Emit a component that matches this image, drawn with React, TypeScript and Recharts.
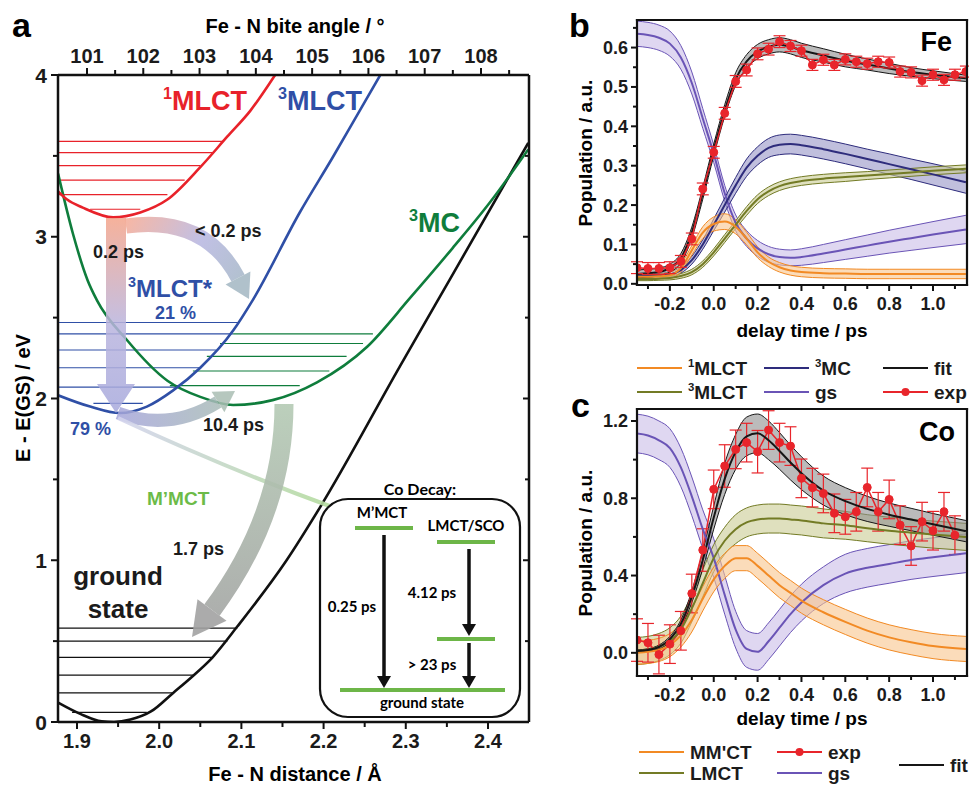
import React from 'react';
import { ComposedChart, LineChart, Line, Area, XAxis, YAxis, ReferenceLine, ErrorBar } from 'recharts';

const FONT = '"Liberation Sans", Arial, Helvetica, sans-serif';
const FONT2 = 'Lato, "Open Sans", sans-serif';

// ---------- panel a : potential energy curves, [Fe-N distance / Å, E / eV]
const gsCurve = [[1.877, 0.12], [1.904, 0.05], [1.93, 0.004], [1.945, 0], [1.965, 0.015], [1.99, 0.065], [2.017, 0.18], [2.04, 0.28], [2.065, 0.4], [2.095, 0.59], [2.155, 1.0], [2.196, 1.33], [2.293, 2.2], [2.354, 2.74], [2.449, 3.58]];
const mlct1Curve = [[1.877, 3.28], [1.888, 3.23], [1.907, 3.18], [1.944, 3.12], [1.977, 3.15], [2.01, 3.23], [2.05, 3.43], [2.083, 3.62], [2.111, 3.78], [2.141, 4.0]];
const mlct3Curve = [[1.877, 2.02], [1.916, 1.95], [1.952, 1.91], [1.985, 1.95], [2.017, 2.05], [2.05, 2.19], [2.09, 2.42], [2.114, 2.61], [2.171, 3.15], [2.211, 3.49], [2.244, 3.78], [2.269, 4.0]];
const mcCurve = [[1.877, 3.39], [1.895, 3.02], [1.913, 2.73], [1.924, 2.61], [1.961, 2.36], [2.01, 2.11], [2.05, 2.01], [2.09, 1.96], [2.138, 1.99], [2.192, 2.1], [2.253, 2.32], [2.305, 2.62], [2.357, 2.93], [2.402, 3.21], [2.449, 3.54]];

// vibrational levels: [E, from d, to d]
const mlct1Levels = [[3.59, 1.877, 2.078], [3.52, 1.877, 2.066], [3.44, 1.877, 2.05], [3.35, 1.877, 2.031], [3.26, 1.877, 2.01], [3.17, 1.916, 1.977]];
const mlct3Levels = [[2.47, 1.877, 2.098], [2.4, 1.877, 2.09], [2.3, 1.877, 2.069], [2.19, 1.877, 2.05], [2.07, 1.877, 2.025], [1.97, 1.92, 1.98]];
const mcLevels = [[2.4, 2.09, 2.26], [2.34, 2.074, 2.248], [2.26, 2.058, 2.228], [2.17, 2.041, 2.207], [2.08, 2.013, 2.171]];
const gsLevels = [[0.58, 1.877, 2.095], [0.5, 1.877, 2.083], [0.4, 1.877, 2.065], [0.29, 1.877, 2.043], [0.18, 1.877, 2.017], [0.06, 1.894, 1.985]];

const distTicks = [1.9, 1.95, 2.0, 2.05, 2.1, 2.15, 2.2, 2.25, 2.3, 2.35, 2.4];
const angleTicks = [101, 101.5, 102, 102.5, 103, 103.5, 104, 104.5, 105, 105.5, 106, 106.5, 107, 107.5, 108, 108.5];
const energyTicks = [0, 0.5, 1, 1.5, 2, 2.5, 3, 3.5, 4];

// ---------- panels b / c : populations vs delay time (ps)
const modelT = [-0.35, -0.3, -0.25, -0.2, -0.15, -0.1, -0.05, 0, 0.05, 0.1, 0.15, 0.2, 0.25, 0.3, 0.35, 0.4, 0.5, 0.6, 0.7, 0.8, 0.9, 1.0, 1.15];

const feFit = [0.025, 0.027, 0.03, 0.04, 0.065, 0.13, 0.23, 0.34, 0.44, 0.52, 0.565, 0.59, 0.602, 0.607, 0.602, 0.593, 0.58, 0.567, 0.557, 0.547, 0.538, 0.531, 0.522];
const feFitErr = [0.01, 0.01, 0.01, 0.01, 0.012, 0.014, 0.015, 0.015, 0.015, 0.016, 0.017, 0.018, 0.018, 0.018, 0.018, 0.018, 0.017, 0.016, 0.014, 0.013, 0.011, 0.01, 0.008];
const feGs = [0.635, 0.632, 0.625, 0.61, 0.575, 0.51, 0.42, 0.33, 0.23, 0.155, 0.115, 0.09, 0.075, 0.068, 0.066, 0.068, 0.077, 0.087, 0.097, 0.107, 0.116, 0.125, 0.138];
const feGsErr = [0.032, 0.032, 0.032, 0.032, 0.03, 0.028, 0.025, 0.022, 0.02, 0.02, 0.02, 0.02, 0.02, 0.02, 0.02, 0.021, 0.023, 0.025, 0.027, 0.029, 0.031, 0.033, 0.036];
const fe3MC = [0.02, 0.02, 0.021, 0.024, 0.035, 0.06, 0.1, 0.15, 0.2, 0.25, 0.295, 0.325, 0.345, 0.353, 0.355, 0.352, 0.342, 0.33, 0.317, 0.304, 0.291, 0.278, 0.258];
const fe3MCErr = [0.005, 0.005, 0.005, 0.006, 0.008, 0.01, 0.012, 0.015, 0.018, 0.02, 0.022, 0.023, 0.024, 0.025, 0.025, 0.025, 0.025, 0.025, 0.025, 0.026, 0.026, 0.027, 0.028];
const fe3MLCT = [0.012, 0.012, 0.013, 0.015, 0.02, 0.03, 0.05, 0.08, 0.115, 0.15, 0.185, 0.215, 0.235, 0.248, 0.256, 0.261, 0.267, 0.271, 0.275, 0.279, 0.283, 0.287, 0.292];
const fe3MLCTErr = [0.004, 0.004, 0.004, 0.005, 0.006, 0.007, 0.008, 0.009, 0.01, 0.01, 0.011, 0.011, 0.011, 0.011, 0.011, 0.011, 0.011, 0.011, 0.01, 0.01, 0.01, 0.01, 0.01];
const fe1MLCT = [0.018, 0.018, 0.019, 0.022, 0.04, 0.085, 0.13, 0.152, 0.158, 0.145, 0.115, 0.08, 0.056, 0.042, 0.034, 0.03, 0.027, 0.026, 0.025, 0.025, 0.025, 0.025, 0.025];
const fe1MLCTErr = [0.005, 0.005, 0.006, 0.008, 0.01, 0.012, 0.015, 0.018, 0.02, 0.018, 0.016, 0.014, 0.012, 0.012, 0.012, 0.012, 0.012, 0.012, 0.012, 0.012, 0.012, 0.012, 0.012];

const feExpT = [-0.35, -0.3, -0.25, -0.2, -0.15, -0.1, -0.05, 0, 0.05, 0.1, 0.15, 0.2, 0.25, 0.3, 0.35, 0.4, 0.45, 0.5, 0.55, 0.6, 0.65, 0.7, 0.75, 0.8, 0.85, 0.9, 0.95, 1.0, 1.05, 1.1, 1.15];
const feExp = [0.041, 0.039, 0.039, 0.041, 0.057, 0.114, 0.241, 0.334, 0.433, 0.514, 0.543, 0.584, 0.596, 0.615, 0.604, 0.592, 0.556, 0.569, 0.556, 0.57, 0.564, 0.559, 0.564, 0.562, 0.539, 0.537, 0.516, 0.531, 0.518, 0.531, 0.539];
const feExpErr = [0.015, 0.015, 0.015, 0.015, 0.015, 0.015, 0.015, 0.015, 0.015, 0.015, 0.015, 0.015, 0.015, 0.015, 0.014, 0.014, 0.014, 0.014, 0.014, 0.014, 0.014, 0.014, 0.014, 0.014, 0.014, 0.014, 0.014, 0.014, 0.014, 0.014, 0.014];

const coFit = [0.01, 0.015, 0.03, 0.07, 0.15, 0.29, 0.48, 0.7, 0.9, 1.04, 1.12, 1.136, 1.1, 1.045, 0.985, 0.93, 0.84, 0.785, 0.745, 0.715, 0.69, 0.665, 0.63];
const coFitErr = [0.005, 0.006, 0.01, 0.015, 0.02, 0.03, 0.045, 0.06, 0.08, 0.09, 0.1, 0.1, 0.1, 0.095, 0.09, 0.085, 0.075, 0.07, 0.065, 0.06, 0.058, 0.056, 0.055];
const coGs = [1.135, 1.125, 1.1, 1.06, 0.96, 0.81, 0.64, 0.49, 0.3, 0.12, 0.02, 0.005, 0.06, 0.13, 0.2, 0.26, 0.35, 0.41, 0.44, 0.46, 0.48, 0.495, 0.515];
const coGsErr = [0.1, 0.1, 0.1, 0.1, 0.1, 0.1, 0.1, 0.1, 0.1, 0.095, 0.095, 0.095, 0.095, 0.095, 0.095, 0.095, 0.095, 0.1, 0.1, 0.1, 0.1, 0.1, 0.1];
const coLmct = [0.01, 0.015, 0.03, 0.06, 0.12, 0.23, 0.36, 0.49, 0.58, 0.64, 0.675, 0.69, 0.695, 0.695, 0.69, 0.685, 0.67, 0.66, 0.645, 0.632, 0.622, 0.612, 0.6];
const coLmctErr = [0.07, 0.07, 0.07, 0.07, 0.07, 0.07, 0.07, 0.07, 0.07, 0.075, 0.075, 0.075, 0.075, 0.075, 0.075, 0.075, 0.075, 0.072, 0.07, 0.07, 0.07, 0.07, 0.07];
const coMmct = [0.0, 0.005, 0.015, 0.04, 0.09, 0.17, 0.28, 0.38, 0.45, 0.49, 0.49, 0.45, 0.4, 0.35, 0.31, 0.27, 0.21, 0.16, 0.115, 0.08, 0.055, 0.035, 0.02];
const coMmctErr = [0.06, 0.06, 0.06, 0.06, 0.06, 0.062, 0.063, 0.064, 0.065, 0.065, 0.065, 0.065, 0.065, 0.065, 0.065, 0.065, 0.065, 0.065, 0.065, 0.065, 0.065, 0.065, 0.065];

const coExpT = [-0.35, -0.3, -0.25, -0.2, -0.15, -0.1, -0.05, 0, 0.05, 0.1, 0.15, 0.2, 0.25, 0.3, 0.35, 0.4, 0.45, 0.5, 0.55, 0.6, 0.65, 0.7, 0.75, 0.8, 0.85, 0.9, 0.95, 1.0, 1.05, 1.1];
const coExp = [0.066, 0.052, -0.009, 0.045, 0.114, 0.307, 0.532, 0.846, 0.967, 1.053, 1.088, 1.041, 1.153, 1.088, 1.07, 0.903, 0.855, 0.825, 0.722, 0.704, 0.73, 0.856, 0.73, 0.794, 0.661, 0.553, 0.679, 0.632, 0.73, 0.609];
const coExpErr = [0.11, 0.1, 0.1, 0.1, 0.1, 0.1, 0.11, 0.1, 0.11, 0.1, 0.1, 0.11, 0.1, 0.1, 0.1, 0.1, 0.1, 0.1, 0.1, 0.09, 0.1, 0.1, 0.1, 0.1, 0.1, 0.1, 0.1, 0.1, 0.1, 0.1];

const timeTicks = [-0.3, -0.2, -0.1, 0, 0.1, 0.2, 0.3, 0.4, 0.5, 0.6, 0.7, 0.8, 0.9, 1.0, 1.1];
const feTicks = [0, 0.05, 0.1, 0.15, 0.2, 0.25, 0.3, 0.35, 0.4, 0.45, 0.5, 0.55, 0.6, 0.65];
const coTicks = [0, 0.2, 0.4, 0.6, 0.8, 1.0, 1.2];

const C = {
  orange: '#f28a24', orangeF: '#f9c48c',
  olive: '#737b25', oliveF: '#c9cc92',
  navy: '#2e2c7c', navyF: '#9694c6',
  purple: '#6a54b6', purpleF: '#c9bce8',
  black: '#161616', blackF: '#8e8e8e',
  red: '#e8252b',
};

const curve = (a: number[][]) => a.map(([d, E]) => ({ d, E }));
const model = (c: number[], e: number[]) => modelT.map((t, i) => ({ t, v: c[i], band: [c[i] - e[i], c[i] + e[i]] }));
const expPts = (ts: number[], v: number[], e: number[]) => ts.map((t, i) => ({ t, v: v[i], e: e[i] }));

type TickOpt = { side: 'left' | 'right' | 'top' | 'bottom'; step: number; len: number; minor: number; inward?: boolean; size: number; off: number; digits: number; label?: boolean };
function makeTick(o: TickOpt) {
  return (p: any) => {
    const v = Number(p.payload?.value);
    const r = v / o.step;
    const major = Math.abs(r - Math.round(r)) < 1e-6;
    const L = major ? o.len : o.minor;
    const s = o.inward ? -1 : 1;
    const x = p.x, y = p.y;
    const txt = major && o.label !== false ? v.toFixed(o.digits) : null;
    const st = { fontFamily: FONT, fontWeight: 700, fontSize: o.size, fill: '#1b1b1b' } as any;
    if (o.side === 'bottom')
      return <g><line x1={x} y1={y} x2={x} y2={y + s * L} stroke="#111" strokeWidth={2} />{txt && <text x={x} y={y + o.off} textAnchor="middle" style={st}>{txt}</text>}</g>;
    if (o.side === 'top')
      return <g><line x1={x} y1={y} x2={x} y2={y - s * L} stroke="#111" strokeWidth={2} />{txt && <text x={x} y={y + o.off} textAnchor="middle" style={st}>{txt}</text>}</g>;
    if (o.side === 'left')
      return <g><line x1={x} y1={y} x2={x - s * L} y2={y} stroke="#111" strokeWidth={2} />{txt && <text x={x + o.off} y={y + o.size * 0.36} textAnchor="end" style={st}>{txt}</text>}</g>;
    return <g><line x1={x} y1={y} x2={x + s * L} y2={y} stroke="#111" strokeWidth={2} /></g>;
  };
}

const feSeries = [
  { c: feGs, e: feGsErr, stroke: C.purple, fill: C.purpleF },
  { c: fe3MC, e: fe3MCErr, stroke: C.navy, fill: C.navyF },
  { c: fe3MLCT, e: fe3MLCTErr, stroke: C.olive, fill: C.oliveF },
  { c: fe1MLCT, e: fe1MLCTErr, stroke: C.orange, fill: C.orangeF },
  { c: feFit, e: feFitErr, stroke: C.black, fill: C.blackF },
];
const coSeries = [
  { c: coGs, e: coGsErr, stroke: C.purple, fill: C.purpleF },
  { c: coLmct, e: coLmctErr, stroke: C.olive, fill: C.oliveF },
  { c: coMmct, e: coMmctErr, stroke: C.orange, fill: C.orangeF },
  { c: coFit, e: coFitErr, stroke: C.black, fill: C.blackF },
];

function bands(list: any[], pre: string) {
  return list.map((s, i) => (
    <Area key={pre + 'a' + i} data={model(s.c, s.e)} type="monotone" dataKey="band" stroke={s.stroke} strokeWidth={1}
      fill={s.fill} fillOpacity={0.6} isAnimationActive={false} dot={false} activeDot={false} />
  ));
}
function centers(list: any[], pre: string) {
  return list.map((s, i) => (
    <Line key={pre + 'l' + i} data={model(s.c, s.e)} type="monotone" dataKey="v" stroke={s.stroke} strokeWidth={2}
      dot={false} activeDot={false} isAnimationActive={false} />
  ));
}
function levels(list: number[][], color: string, pre: string) {
  return list.map(([E, d1, d2], i) => (
    <ReferenceLine key={pre + i} segment={[{ x: d1, y: E }, { x: d2, y: E }]} stroke={color} strokeWidth={1.2} ifOverflow="visible" />
  ));
}

function Sup({ x, y, sup, main, size, fill, anchor }: any) {
  return (
    <text x={x} y={y} fill={fill} fontSize={size} fontWeight={700} fontFamily={FONT} textAnchor={anchor || 'start'}>
      {sup && <tspan fontSize={size * 0.6} dy={-size * 0.4}>{sup}</tspan>}
      <tspan dy={sup ? size * 0.4 : 0}>{main}</tspan>
    </text>
  );
}

function LegendItem({ x, y, color, dot, sup, main }: any) {
  return (
    <g>
      <line x1={x} x2={x + 45} y1={y} y2={y} stroke={color} strokeWidth={2} />
      {dot && <circle cx={x + 22.5} cy={y} r={4} fill={color} />}
      <Sup x={x + 51} y={y + 7} sup={sup} main={main} size={19} fill="#1b1b1b" />
    </g>
  );
}

function Frame({ x1, y1, x2, y2 }: any) {
  return (
    <g stroke="#111111" strokeWidth={2.2} strokeLinecap="square">
      <line x1={x1} y1={y1} x2={x2} y2={y1} />
      <line x1={x2} y1={y1} x2={x2} y2={y2} />
      <line x1={x1} y1={y1} x2={x1} y2={y2} />
      <line x1={x1} y1={y2} x2={x2} y2={y2} />
    </g>
  );
}

function Overlay() {
  const t = { fontFamily: FONT, fontWeight: 700 } as any;
  const t2 = { fontFamily: FONT2, fontWeight: 700 } as any;
  return (
    <svg width={969} height={785} viewBox="0 0 969 785" style={{ position: 'absolute', left: 0, top: 0, pointerEvents: 'none', zIndex: 5 }}>
      <defs>
        <linearGradient id="g1" x1="0" y1="218" x2="0" y2="413" gradientUnits="userSpaceOnUse">
          <stop offset="0" stopColor="#f4a48a" />
          <stop offset="0.55" stopColor="#b9b4de" />
          <stop offset="1" stopColor="#a7a9dc" />
        </linearGradient>
        <linearGradient id="g2" x1="126" y1="226" x2="249" y2="299" gradientUnits="userSpaceOnUse">
          <stop offset="0" stopColor="#f3ab98" />
          <stop offset="0.5" stopColor="#b6b5e0" />
          <stop offset="1" stopColor="#9fb6c0" />
        </linearGradient>
        <linearGradient id="g3" x1="118" y1="413" x2="236" y2="392" gradientUnits="userSpaceOnUse">
          <stop offset="0" stopColor="#a6a6da" />
          <stop offset="1" stopColor="#a9bfb2" />
        </linearGradient>
        <linearGradient id="g4" x1="0" y1="404" x2="0" y2="638" gradientUnits="userSpaceOnUse">
          <stop offset="0" stopColor="#b4cab4" />
          <stop offset="1" stopColor="#a2a2a2" />
        </linearGradient>
        <linearGradient id="g5" x1="118" y1="418" x2="335" y2="508" gradientUnits="userSpaceOnUse">
          <stop offset="0" stopColor="#d4d4ee" />
          <stop offset="1" stopColor="#b3dc9c" />
        </linearGradient>
      </defs>

      {/* frames of panels b and c */}
      <Frame x1={637} y1={20} x2={967} y2={285} />
      <Frame x1={637} y1={409} x2={967} y2={676} />

      {/* panel a arrows */}
      <path d="M106 218 L126 218 L126 384 L135 384 L116 413 L97 384 L106 384 Z" fill="url(#g1)" opacity={0.85} />
      <path d="M126 226 Q205 215 238 278" stroke="url(#g2)" strokeWidth={15} fill="none" opacity={0.85} />
      <polygon points="225.6,284.5 250.4,271.5 249,299" fill="#a2b6c2" opacity={0.85} />
      <path d="M118 413 Q170 432 218 402" stroke="url(#g3)" strokeWidth={13} fill="none" opacity={0.85} />
      <polygon points="224.4,412.2 211.6,391.8 235,391" fill="#a9bdb3" opacity={0.85} />
      <path d="M118 418 Q230 470 335 508" stroke="url(#g5)" strokeWidth={4} fill="none" opacity={0.9} />
      <path d="M284 404 C284 480 258 548 212 610" stroke="url(#g4)" strokeWidth={19} fill="none" opacity={0.9} />
      <polygon points="226.5,620.7 197.5,599.3 192,637" fill="#a2a2a2" opacity={0.9} />

      {/* inset */}
      <rect x={320} y={499} width={200} height={218} rx={28} fill="#fff" stroke="#111" strokeWidth={2.2} />
      <text x={420} y={495} textAnchor="middle" fontSize={16} style={t2}>Co Decay:</text>
      <text x={382} y={518} textAnchor="middle" fontSize={15} style={t2}>M’MCT</text>
      <text x={466} y={531} textAnchor="middle" fontSize={15} style={t2}>LMCT/SCO</text>
      <line x1={355} x2={413} y1={528} y2={528} stroke="#6db648" strokeWidth={4} />
      <line x1={437} x2={495} y1={542} y2={542} stroke="#6db648" strokeWidth={4} />
      <line x1={437} x2={495} y1={639} y2={639} stroke="#6db648" strokeWidth={4} />
      <line x1={340} x2={505} y1={690} y2={690} stroke="#6db648" strokeWidth={4} />
      <line x1={384} x2={384} y1={535} y2={678} stroke="#111" strokeWidth={3.5} />
      <polygon points="377,676 391,676 384,688" fill="#111" />
      <line x1={469} x2={469} y1={549} y2={626} stroke="#111" strokeWidth={3.5} />
      <polygon points="462,624 476,624 469,636" fill="#111" />
      <line x1={469} x2={469} y1={643} y2={678} stroke="#111" strokeWidth={3.5} />
      <polygon points="462,676 476,676 469,688" fill="#111" />
      <text x={352} y={612} textAnchor="middle" fontSize={15} style={t2}>0.25 ps</text>
      <text x={432} y={598} textAnchor="middle" fontSize={15} style={t2}>4.12 ps</text>
      <text x={432} y={670} textAnchor="middle" fontSize={15} style={t2}>&gt; 23 ps</text>
      <text x={422} y={708} textAnchor="middle" fontSize={15} style={t2}>ground state</text>

      {/* panel a labels */}
      <text x={12} y={37} fontSize={34} style={t}>a</text>
      <text x={295} y={33} textAnchor="middle" fontSize={20} style={t}>Fe - N bite angle / °</text>
      <text x={295} y={781} textAnchor="middle" fontSize={20} style={t}>Fe - N distance / Å</text>
      <text x={30} y={398} textAnchor="middle" fontSize={20} style={t} transform="rotate(-90 30 398)">E - E(GS) / eV</text>
      <Sup x={163} y={110} sup="1" main="MLCT" size={27} fill="#e8222a" />
      <Sup x={278} y={110} sup="3" main="MLCT" size={27} fill="#2f4fa6" />
      <Sup x={409} y={232} sup="3" main="MC" size={27} fill="#0f7d3c" />
      <Sup x={128} y={297} sup="3" main="MLCT*" size={24} fill="#2f4fa6" />
      <text x={93} y={258} fontSize={18} style={t} fill="#1b1b1b">0.2 ps</text>
      <text x={195} y={237} fontSize={18} style={t} fill="#1b1b1b">&lt; 0.2 ps</text>
      <text x={155} y={319} fontSize={18} style={t} fill="#2f4fa6">21 %</text>
      <text x={70} y={435} fontSize={18} style={t} fill="#2f4fa6">79 %</text>
      <text x={203} y={431} fontSize={18} style={t} fill="#1b1b1b">10.4 ps</text>
      <text x={147} y={505} fontSize={19} style={t} fill="#6cbb48">M’MCT</text>
      <text x={173} y={555} fontSize={18} style={t} fill="#1b1b1b">1.7 ps</text>
      <text x={118} y={585} textAnchor="middle" fontSize={26} style={t} fill="#1b1b1b">ground</text>
      <text x={118} y={618} textAnchor="middle" fontSize={26} style={t} fill="#1b1b1b">state</text>

      {/* panel b labels */}
      <text x={569} y={37} fontSize={34} style={t}>b</text>
      <text x={952} y={51} textAnchor="end" fontSize={27} style={t}>Fe</text>
      <text x={802} y={337} textAnchor="middle" fontSize={19} style={t}>delay time / ps</text>
      <text x={592} y={153} textAnchor="middle" fontSize={19} style={t} transform="rotate(-90 592 153)">Population / a.u.</text>
      <LegendItem x={637} y={368} color={C.orange} sup="1" main="MLCT" />
      <LegendItem x={764} y={368} color={C.navy} sup="3" main="MC" />
      <LegendItem x={883} y={368} color={C.black} main="fit" />
      <LegendItem x={637} y={392} color={C.olive} sup="3" main="MLCT" />
      <LegendItem x={764} y={392} color={C.purple} main="gs" />
      <LegendItem x={883} y={392} color={C.red} main="exp" dot />

      {/* panel c labels */}
      <text x={571} y={417} fontSize={34} style={t}>c</text>
      <text x={955} y={441} textAnchor="end" fontSize={27} style={t}>Co</text>
      <text x={802} y={725} textAnchor="middle" fontSize={19} style={t}>delay time / ps</text>
      <text x={592} y={543} textAnchor="middle" fontSize={19} style={t} transform="rotate(-90 592 543)">Population / a.u.</text>
      <LegendItem x={639} y={752} color={C.orange} main="MM'CT" />
      <LegendItem x={777} y={752} color={C.red} main="exp" dot />
      <LegendItem x={639} y={773} color={C.olive} main="LMCT" />
      <LegendItem x={777} y={773} color={C.purple} main="gs" />
      <LegendItem x={899} y={765} color={C.black} main="fit" />
    </svg>
  );
}

// plot area of panel a: x 58..529, y 75..722 (axis sizes are absorbed into the margins)
function PanelA() {
  return (
    <LineChart width={560} height={785} margin={{ top: 25, right: 21, bottom: 13, left: 8 }}>
      <XAxis type="number" dataKey="d" domain={[1.8769, 2.4499]} allowDataOverflow ticks={distTicks} interval={0}
        height={50} tickSize={0} tickMargin={0} tickLine={false} axisLine={{ stroke: '#111', strokeWidth: 2.5 }}
        tick={makeTick({ side: 'bottom', step: 0.1, len: 7, minor: 5, size: 20, off: 26, digits: 1 })} />
      <XAxis xAxisId="top" orientation="top" type="number" dataKey="angle" domain={[100.485, 108.853]} allowDataOverflow ticks={angleTicks} interval={0}
        height={50} tickSize={0} tickMargin={0} tickLine={false} axisLine={{ stroke: '#111', strokeWidth: 2.5 }}
        tick={makeTick({ side: 'top', step: 1, len: 7, minor: 5, size: 20, off: -12, digits: 0 })} />
      <YAxis type="number" domain={[0, 4]} allowDataOverflow ticks={energyTicks} interval={0}
        width={50} tickSize={0} tickMargin={0} tickLine={false} axisLine={{ stroke: '#111', strokeWidth: 2.5 }}
        tick={makeTick({ side: 'left', step: 1, len: 7, minor: 5, size: 21, off: -11, digits: 0 })} />
      <YAxis yAxisId="r" orientation="right" type="number" domain={[0, 4]} allowDataOverflow ticks={energyTicks} interval={0}
        width={10} tickSize={0} tickMargin={0} tickLine={false} axisLine={{ stroke: '#111', strokeWidth: 2.5 }}
        tick={makeTick({ side: 'right', step: 1, len: 6, minor: 4, inward: true, size: 20, off: 0, digits: 0, label: false })} />
      {levels(mlct1Levels, '#e8222a', 'r')}
      {levels(mlct3Levels, '#2f4fa6', 'b')}
      {levels(mcLevels, '#0f7d3c', 'g')}
      {levels(gsLevels, '#111', 'k')}
      <Line data={curve(gsCurve)} dataKey="E" type="monotone" stroke="#111" strokeWidth={2.6} dot={false} isAnimationActive={false} />
      <Line data={curve(mcCurve)} dataKey="E" type="monotone" stroke="#0f7d3c" strokeWidth={2.6} dot={false} isAnimationActive={false} />
      <Line data={curve(mlct3Curve)} dataKey="E" type="monotone" stroke="#2f4fa6" strokeWidth={2.6} dot={false} isAnimationActive={false} />
      <Line data={curve(mlct1Curve)} dataKey="E" type="monotone" stroke="#e8222a" strokeWidth={2.6} dot={false} isAnimationActive={false} />
    </LineChart>
  );
}

// plot area of b/c: x 637..967 in page pixels; left YAxis 40 wide, bottom XAxis 30 high
function PopPanel({ height, margin, yDomain, yTicks, yStep, series, expT, exp, expErr, expFirst, pre }: any) {
  const expLine = (
    <Line key={pre + 'exp'} data={expPts(expT, exp, expErr)} dataKey="v" type="linear" stroke={C.red} strokeWidth={1.5}
      dot={{ r: 4, fill: C.red, stroke: C.red, strokeWidth: 1 }} activeDot={false} isAnimationActive={false}>
      <ErrorBar dataKey="e" width={6} stroke={C.red} strokeWidth={1.2} direction="y" />
    </Line>
  );
  return (
    <ComposedChart width={409} height={height} margin={margin}>
      <XAxis type="number" dataKey="t" domain={[-0.35, 1.155]} allowDataOverflow ticks={timeTicks} interval={0}
        height={30} tickSize={0} tickMargin={0} tickLine={false} axisLine={{ stroke: '#111', strokeWidth: 2 }}
        tick={makeTick({ side: 'bottom', step: 0.2, len: 6, minor: 4, size: 18, off: 25, digits: 1 })} />
      <YAxis type="number" domain={yDomain} allowDataOverflow ticks={yTicks} interval={0}
        width={40} tickSize={0} tickMargin={0} tickLine={false} axisLine={{ stroke: '#111', strokeWidth: 2 }}
        tick={makeTick({ side: 'left', step: yStep, len: 6, minor: 4, size: 18, off: -9, digits: 1 })} />
      {expFirst && expLine}
      {bands(series, pre)}
      {centers(series, pre)}
      {!expFirst && expLine}
    </ComposedChart>
  );
}

export default function App() {
  return (
    <div style={{ position: 'absolute', left: 0, top: 0, width: 969, height: 785, background: '#fff', fontFamily: FONT, overflow: 'hidden' }}>
      <div style={{ position: 'absolute', left: 0, top: 0 }}>
        <PanelA />
      </div>
      <div style={{ position: 'absolute', left: 560, top: 0 }}>
        <PopPanel pre="fe" height={340} margin={{ top: 20, right: 2, bottom: 25, left: 37 }} yDomain={[-0.003, 0.67]} yTicks={feTicks} yStep={0.1}
          series={feSeries} expT={feExpT} exp={feExp} expErr={feExpErr} expFirst={false} />
      </div>
      <div style={{ position: 'absolute', left: 560, top: 390 }}>
        <PopPanel pre="co" height={320} margin={{ top: 19, right: 2, bottom: 4, left: 37 }} yDomain={[-0.12, 1.262]} yTicks={coTicks} yStep={0.4}
          series={coSeries} expT={coExpT} exp={coExp} expErr={coExpErr} expFirst={true} />
      </div>
      <Overlay />
    </div>
  );
}
